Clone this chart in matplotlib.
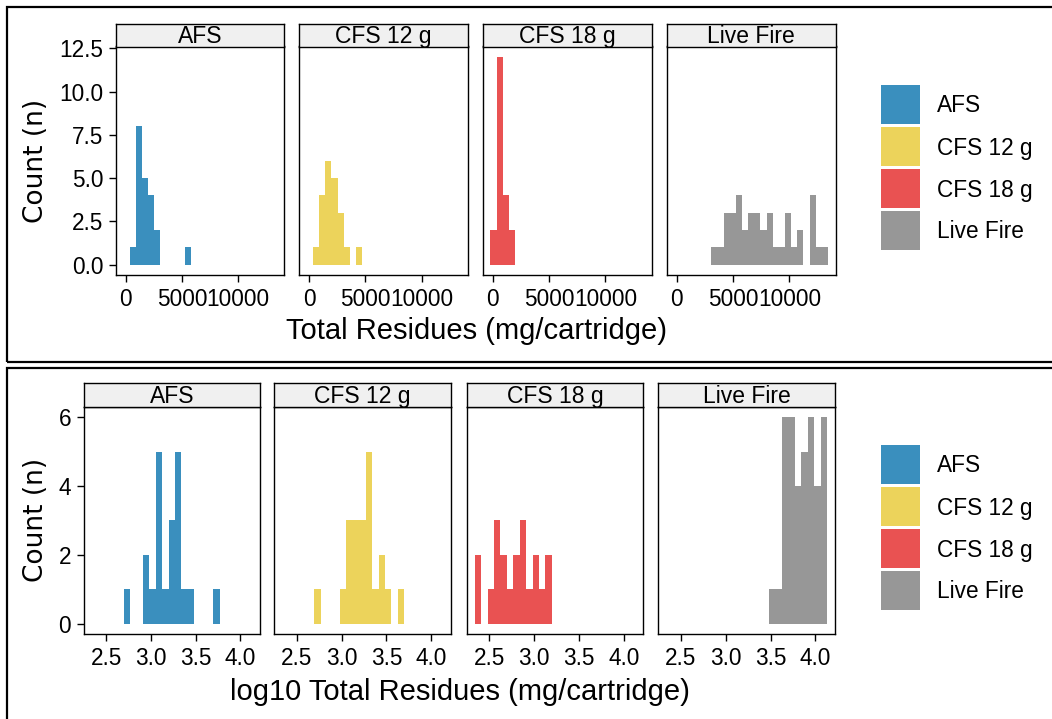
import numpy as np
import matplotlib.pyplot as plt
from matplotlib.patches import Rectangle

plt.rcParams['font.family'] = ['Liberation Sans', 'DejaVu Sans']

groups = ["AFS", "CFS 12 g", "CFS 18 g", "Live Fire"]
colors = ["#3A8FBE", "#ECD35B", "#E95252", "#979797"]

# top row: raw totals, 25 bins
raw_start = -200
raw_width = 545
raw_afs = [0, 1, 8, 5, 4, 2, 0, 0, 0, 0, 1, 0, 0, 0, 0, 0, 0, 0, 0, 0, 0, 0, 0, 0, 0]
raw_cfs12 = [0, 1, 4, 6, 5, 3, 1, 0, 1, 0, 0, 0, 0, 0, 0, 0, 0, 0, 0, 0, 0, 0, 0, 0, 0]
raw_cfs18 = [2, 12, 4, 2, 0, 0, 0, 0, 0, 0, 0, 0, 0, 0, 0, 0, 0, 0, 0, 0, 0, 0, 0, 0, 0]
raw_live = [0, 0, 0, 0, 0, 0, 1, 1, 3, 3, 4, 2, 3, 3, 2, 3, 1, 1, 3, 1, 2, 0, 4, 1, 1]

# bottom row: log10 totals, 25 bins
log_start = 2.336
log_width = 0.0717
log_afs = [0, 0, 0, 0, 0, 1, 0, 0, 2, 1, 5, 1, 3, 5, 1, 1, 0, 0, 0, 1, 0, 0, 0, 0, 0]
log_cfs12 = [0, 0, 0, 0, 0, 1, 0, 0, 0, 1, 3, 3, 3, 5, 1, 2, 1, 0, 1, 0, 0, 0, 0, 0, 0]
log_cfs18 = [2, 0, 1, 3, 2, 1, 2, 3, 1, 2, 1, 2, 0, 0, 0, 0, 0, 0, 0, 0, 0, 0, 0, 0, 0]
log_live = [0, 0, 0, 0, 0, 0, 0, 0, 0, 0, 0, 0, 0, 0, 0, 0, 1, 1, 6, 6, 4, 5, 6, 4, 6]

raw_ticks = [0, 5000, 10000]
raw_labels = ["0", "5000", "10000"]
raw_yticks = [0, 2.5, 5, 7.5, 10, 12.5]
log_ticks = [2.5, 3.0, 3.5, 4.0]
log_yticks = [0, 2, 4, 6]

W, H = 1052, 719
fig = plt.figure(figsize=(W / 100, H / 100), dpi=100)


def rect(x0, y0, x1, y1):
    return [x0 / W, 1 - y1 / H, (x1 - x0) / W, (y1 - y0) / H]


def row(counts, start, width, xs, ytop, ybot, stop, xticks, xlabels, yticks, ylabels, xlim, ylim):
    for i, (x0, x1) in enumerate(xs):
        ax = fig.add_axes(rect(x0, ytop, x1, ybot))
        edges = start + width * np.arange(len(counts[i]))
        ax.bar(edges, counts[i], width=width, align='edge', color=colors[i], linewidth=0)
        ax.set_xlim(xlim)
        ax.set_ylim(ylim)
        ax.set_xticks(xticks)
        ax.set_xticklabels(xlabels)
        if i == 0:
            ax.set_yticks(yticks)
            ax.set_yticklabels(ylabels)
        else:
            ax.set_yticks([])
        ax.tick_params(length=5, width=1, color='black', labelsize=16.3, pad=4, labelcolor='black')
        for s in ax.spines.values():
            s.set_linewidth(1.0)
            s.set_color('black')
        sax = fig.add_axes(rect(x0, stop, x1, ytop))
        sax.set_facecolor('#F0F0F0')
        sax.set_xticks([])
        sax.set_yticks([])
        for s in sax.spines.values():
            s.set_linewidth(1.0)
            s.set_color('black')
        sax.text(0.5, 0.42, groups[i], ha='center', va='center', fontsize=16.5, transform=sax.transAxes)


def legend(ytop):
    for i, g in enumerate(groups):
        y0 = ytop + i * 42
        fig.patches.append(Rectangle((881 / W, 1 - (y0 + 39) / H), 39 / W, 39 / H,
                                     transform=fig.transFigure, color=colors[i], lw=0))
        fig.text(937 / W, 1 - (y0 + 21) / H, g, fontsize=16.3, va='center', ha='left')


def frame(y0, y1):
    fig.patches.append(Rectangle((7 / W, 1 - y1 / H), 1.2, (y1 - y0) / H, transform=fig.transFigure,
                                 fill=False, edgecolor='black', lw=1.6))


# top plot
top_xs = [(116, 284), (299.3, 467.7), (482.7, 651.7), (666.7, 835.7)]
row([raw_afs, raw_cfs12, raw_cfs18, raw_live], raw_start, raw_width, top_xs, 46.5, 275, 23.5,
    raw_ticks, raw_labels, raw_yticks, ["0.0", "2.5", "5.0", "7.5", "10.0", "12.5"],
    (-881, 14106), (-0.6, 12.6))
fig.text(476 / W, 1 - 331 / H, "Total Residues (mg/cartridge)", fontsize=21, ha='center', va='center')
fig.text(36 / W, 1 - 161 / H, "Count (n)", fontsize=19, rotation=90, ha='center', va='center',
         family='DejaVu Sans')
legend(85)
frame(7, 362)

# bottom plot
bot_xs = [(83.5, 260), (274.3, 450.7), (466.7, 643.3), (658.3, 835)]
row([log_afs, log_cfs12, log_cfs18, log_live], log_start, log_width, bot_xs, 406.7, 634.3, 383.3,
    log_ticks, ["2.5", "3.0", "3.5", "4.0"], log_yticks, ["0", "2", "4", "6"],
    (2.2464, 4.218), (-0.3, 6.3))
fig.text(460 / W, 1 - 692 / H, "log10 Total Residues (mg/cartridge)", fontsize=21, ha='center', va='center')
fig.text(36 / W, 1 - 520 / H, "Count (n)", fontsize=19, rotation=90, ha='center', va='center',
         family='DejaVu Sans')
legend(445)
frame(368, 760)

fig.savefig("out.png", dpi=100)
